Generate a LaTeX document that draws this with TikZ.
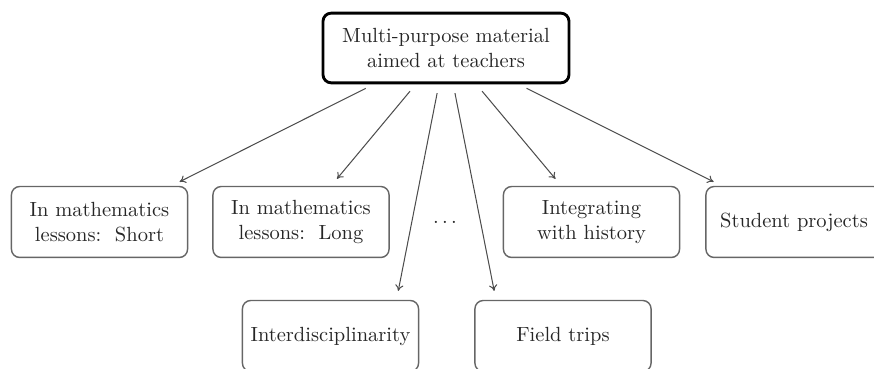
\documentclass[tikz,border=0pt]{standalone}
\usetikzlibrary{arrows.meta,calc}
\begin{document}
\begin{tikzpicture}[x=0.4878pt, y=-0.4878pt,
  every node/.style={font=\fontsize{10}{12}\selectfont, text=black!85},
  rootbox/.style={draw=black, line width=1.4pt, rounded corners=4pt,
    minimum width=120pt, minimum height=34pt, align=center, inner sep=0pt},
  leafbox/.style={draw=black!60, line width=0.7pt, rounded corners=4pt,
    minimum width=85.9pt, minimum height=34.6pt, align=center, inner sep=0pt},
  link/.style={draw=black!70, line width=0.5pt, -{To[length=3pt,width=4pt]},
    shorten <=4.4pt, shorten >=4.4pt}]
\useasboundingbox (0,0) rectangle (874,369);
\clip (0,0) rectangle (874,369);

% root
\node[rootbox] (root) at (446,48) {Multi-purpose material\\aimed at teachers};

% first row
\node[leafbox] (short) at (99.5,222) {In mathematics\\lessons:\ \ Short};
\node[leafbox] (long)  at (301,222) {In mathematics\\lessons:\ \ Long};
\node (dots) at (445,222) {$\ldots$};
\node[leafbox] (hist)  at (591.5,222) {Integrating\\with history};
\node[leafbox] (proj)  at (794,222) {Student projects};

% second row
\node[leafbox] (inter) at (330.5,336) {Interdisciplinarity};
\node[leafbox] (field) at (563,336) {Field trips};

% connectors
\draw[link] (root) -- (short);
\draw[link] (root) -- (long);
\draw[link] (root) -- ($(inter.north)+(66,0)$);
\draw[link] (root) -- ($(field.north)+(-67,0)$);
\draw[link] (root) -- (hist);
\draw[link] (root) -- (proj);
\end{tikzpicture}
\end{document}
